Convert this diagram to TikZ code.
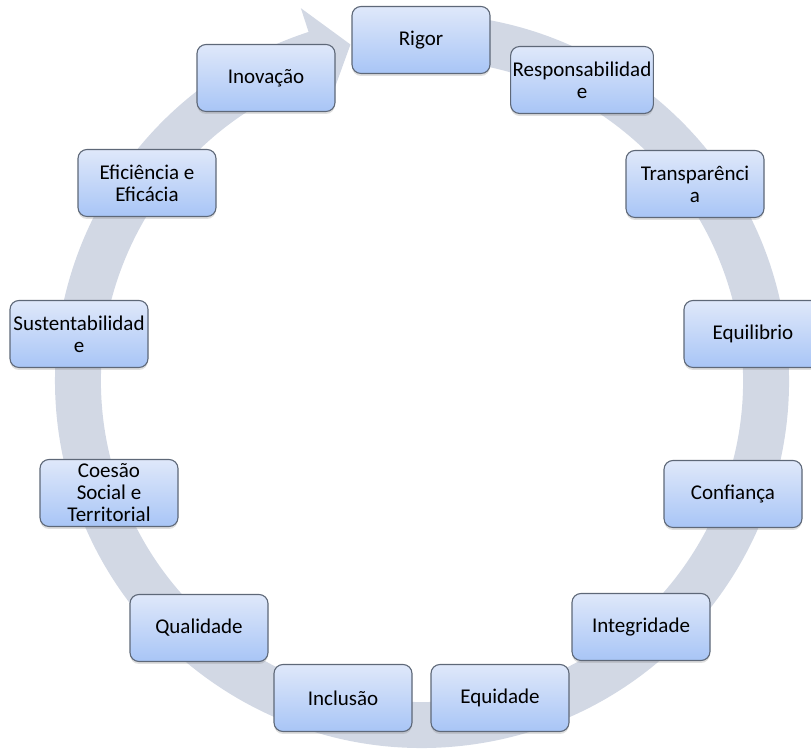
\documentclass[tikz,border=0pt]{standalone}
\usepackage{fontspec}
\setmainfont{Carlito}
\usetikzlibrary{shadows}
\definecolor{ringgray}{HTML}{D2D8E4}
\definecolor{boxtop}{HTML}{DFE8FA}
\definecolor{boxbottom}{HTML}{A8C5F6}
\definecolor{boxline}{HTML}{5E6878}
\tikzset{
  valor/.style={draw=boxline, line width=1.1pt, rounded corners=9pt,
    top color=boxtop, bottom color=boxbottom,
    minimum width=138pt, minimum height=67pt, inner sep=2pt, align=center,
    font=\fontsize{21}{22}\selectfont,
    drop shadow={opacity=0.25, shadow xshift=0pt, shadow yshift=-2.5pt}}
}
\begin{document}
\begin{tikzpicture}[x=1pt,y=1pt]
                \useasboundingbox (0,0) rectangle (811,751);
                % circular arrow behind the boxes
                \begin{scope}[shift={(422,370)}]
                \fill[ringgray] (98:367) arc[start angle=98, end angle=-252, radius=367]
                    -- (108:392) -- (102:344) -- (108:296) -- (108:321)
                    arc[start angle=-252, end angle=98, radius=321] -- cycle;
                \end{scope}
                \node[valor] (rigor) at (421,711) {Rigor};
                \node[valor] (responsabilidade) at (582,671) {Responsabilidad\\e};
                \node[valor] (transparencia) at (695,567) {Transparênci\\a};
                \node[valor] (equilibrio) at (753,417) {Equilibrio};
                \node[valor] (confianca) at (733,257) {Confiança};
                \node[valor] (integridade) at (641,124) {Integridade};
                \node[valor] (equidade) at (500,53) {Equidade};
                \node[valor] (inclusao) at (343,53) {Inclusão};
                \node[valor] (qualidade) at (199,123) {Qualidade};
                \node[valor] (coesao) at (109,258) {Coesão\\Social e\\Territorial};
                \node[valor] (sustentabilidade) at (79,417) {Sustentabilidad\\e};
                \node[valor] (eficiencia) at (147,568) {Eficiência e\\Eficácia};
                \node[valor] (inovacao) at (266,673) {Inovação};
\end{tikzpicture}
\end{document}
